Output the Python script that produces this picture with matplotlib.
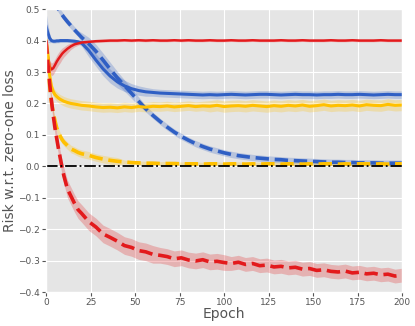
import matplotlib
matplotlib.use("Agg")
import matplotlib.pyplot as plt
import numpy as np

plt.style.use("ggplot")

epochs = [0, 1, 2, 3, 4, 5, 6, 7, 8, 9, 10, 12, 14, 16, 18] + list(range(20, 201, 4))

blue_solid = [0.445, 0.425, 0.408, 0.400, 0.398, 0.398, 0.399, 0.399, 0.400, 0.400, 0.400,
              0.400, 0.399, 0.398, 0.396,
              0.392, 0.368, 0.338, 0.310, 0.287, 0.269, 0.256, 0.247, 0.241, 0.237,
              0.235, 0.233, 0.232, 0.231, 0.230, 0.229, 0.228, 0.227, 0.228, 0.227,
              0.228, 0.229, 0.228, 0.227, 0.228, 0.229, 0.229, 0.228, 0.227, 0.228,
              0.229, 0.228, 0.228, 0.227, 0.228, 0.228, 0.229, 0.228, 0.228, 0.229,
              0.228, 0.227, 0.228, 0.229, 0.228, 0.228]
blue_solid_sd = [0.045, 0.03, 0.015] + [0.006] * 12 + [0.01, 0.02, 0.02, 0.022, 0.022, 0.02,
                 0.018, 0.016, 0.015, 0.014] + [0.012] * 36

blue_dashed = [0.560, 0.551, 0.542, 0.534, 0.525, 0.516, 0.508, 0.499, 0.490, 0.482, 0.474,
               0.460, 0.447, 0.434, 0.422,
               0.410, 0.390, 0.366, 0.338, 0.309, 0.282, 0.257, 0.232, 0.207, 0.183,
               0.162, 0.143, 0.125, 0.109, 0.095, 0.083, 0.072, 0.063, 0.055, 0.049,
               0.043, 0.038, 0.034, 0.031, 0.028, 0.026, 0.024, 0.022, 0.021, 0.019,
               0.018, 0.017, 0.016, 0.015, 0.014, 0.013, 0.013, 0.012, 0.012, 0.011,
               0.011, 0.011, 0.010, 0.010, 0.010, 0.010]
blue_dashed_sd = [0.01] * 15 + [0.015, 0.02, 0.022, 0.022, 0.022, 0.02, 0.018, 0.016,
                  0.014] + [0.01] * 37

red_solid = [0.390, 0.350, 0.318, 0.308, 0.312, 0.322, 0.333, 0.342, 0.350, 0.358, 0.364,
             0.374, 0.382, 0.388, 0.391,
             0.394, 0.396, 0.398, 0.399, 0.400, 0.400, 0.401, 0.400, 0.401, 0.400,
             0.401, 0.400, 0.400, 0.401, 0.400, 0.401, 0.400, 0.400, 0.401, 0.400,
             0.400, 0.401, 0.400, 0.400, 0.401, 0.400, 0.400, 0.400, 0.401, 0.400,
             0.400, 0.401, 0.400, 0.400, 0.400, 0.401, 0.400, 0.400, 0.401, 0.400,
             0.400, 0.400, 0.401, 0.400, 0.400, 0.400]
red_solid_sd = [0.01, 0.015, 0.02, 0.02, 0.02, 0.02, 0.02, 0.02, 0.02, 0.018, 0.016,
                0.014, 0.01, 0.008, 0.006] + [0.004] * 46

yellow_solid = [0.400, 0.360, 0.290, 0.255, 0.238, 0.228, 0.222, 0.217, 0.213, 0.210, 0.207,
                0.203, 0.200, 0.198, 0.196,
                0.194, 0.192, 0.189, 0.187, 0.188, 0.186, 0.189, 0.187, 0.190, 0.188,
                0.191, 0.190, 0.192, 0.189, 0.191, 0.193, 0.190, 0.192, 0.191, 0.194,
                0.190, 0.192, 0.193, 0.191, 0.194, 0.192, 0.190, 0.193, 0.191, 0.194,
                0.192, 0.195, 0.191, 0.193, 0.196, 0.192, 0.194, 0.193, 0.195, 0.192,
                0.196, 0.194, 0.193, 0.197, 0.194, 0.195]
yellow_solid_sd = [0.01] * 3 + [0.015] * 30 + [0.018] * 28

yellow_dashed = [0.400, 0.320, 0.255, 0.205, 0.172, 0.145, 0.122, 0.108, 0.095, 0.085, 0.077,
                 0.066, 0.055, 0.050, 0.044,
                 0.040, 0.035, 0.028, 0.023, 0.019, 0.016, 0.014, 0.012, 0.011, 0.010,
                 0.010, 0.009, 0.009, 0.009, 0.008, 0.008, 0.008, 0.007, 0.008, 0.008,
                 0.007, 0.008, 0.008, 0.007, 0.008, 0.007, 0.008, 0.008, 0.007, 0.008,
                 0.008, 0.007, 0.008, 0.007, 0.008, 0.008, 0.007, 0.008, 0.007, 0.008,
                 0.008, 0.007, 0.008, 0.007, 0.008, 0.008]
yellow_dashed_sd = [0.01] * 5 + [0.012] * 16 + [0.006] * 40

red_dashed = [0.400, 0.330, 0.265, 0.210, 0.163, 0.122, 0.088, 0.055, 0.025, -0.004, -0.030,
              -0.072, -0.095, -0.118, -0.138,
              -0.150, -0.176, -0.193, -0.215, -0.226, -0.238, -0.252, -0.258, -0.268, -0.272,
              -0.280, -0.283, -0.287, -0.294, -0.291, -0.298, -0.301, -0.297, -0.304, -0.302,
              -0.306, -0.309, -0.305, -0.312, -0.309, -0.316, -0.314, -0.320, -0.318, -0.323,
              -0.321, -0.327, -0.325, -0.331, -0.329, -0.334, -0.336, -0.333, -0.339, -0.337,
              -0.342, -0.340, -0.345, -0.343, -0.349, -0.346]
red_dashed_sd = [0.01, 0.015, 0.018, 0.02, 0.02, 0.02, 0.02, 0.02, 0.022, 0.024, 0.025] + \
                [0.028] * 15 + [0.025] * 10 + [0.022] * 25

blue = "#2f5fc4"
red = "#e31a1c"
yellow = "#ffc000"

series = [
    (blue_solid, blue_solid_sd, blue, "-", 2.2),
    (blue_dashed, blue_dashed_sd, blue, "--", 2.6),
    (red_solid, red_solid_sd, red, "-", 1.8),
    (yellow_solid, yellow_solid_sd, yellow, "-", 2.2),
    (yellow_dashed, yellow_dashed_sd, yellow, "--", 2.6),
    (red_dashed, red_dashed_sd, red, "--", 2.6),
]

fig = plt.figure(figsize=(4.15, 3.26), dpi=100)
ax = fig.add_axes([0.111, 0.104, 0.858, 0.868])

x = np.array(epochs)
for vals, sd, col, ls, lw in series:
    vals = np.array(vals)
    sd = np.array(sd)
    ax.fill_between(x, vals - sd, vals + sd, color=col, alpha=0.25, lw=0)
    ax.plot(x, vals, color=col, ls=ls, lw=lw)

ax.axhline(0, color="black", ls="-.", lw=1.3)

ax.set_xlim(0, 200)
ax.set_ylim(-0.4, 0.5)
ax.set_xticks([0, 25, 50, 75, 100, 125, 150, 175, 200])
ax.set_yticks(np.arange(-0.4, 0.51, 0.1))
ax.tick_params(labelsize=6.5, pad=1.5, length=3)
ax.set_xlabel("Epoch", fontsize=10)
ax.set_ylabel("Risk w.r.t. zero-one loss", fontsize=10)
ax.yaxis.set_label_coords(-0.082, 0.5)
ax.xaxis.set_label_coords(0.5, -0.052)

plt.savefig("out.png", dpi=100)
